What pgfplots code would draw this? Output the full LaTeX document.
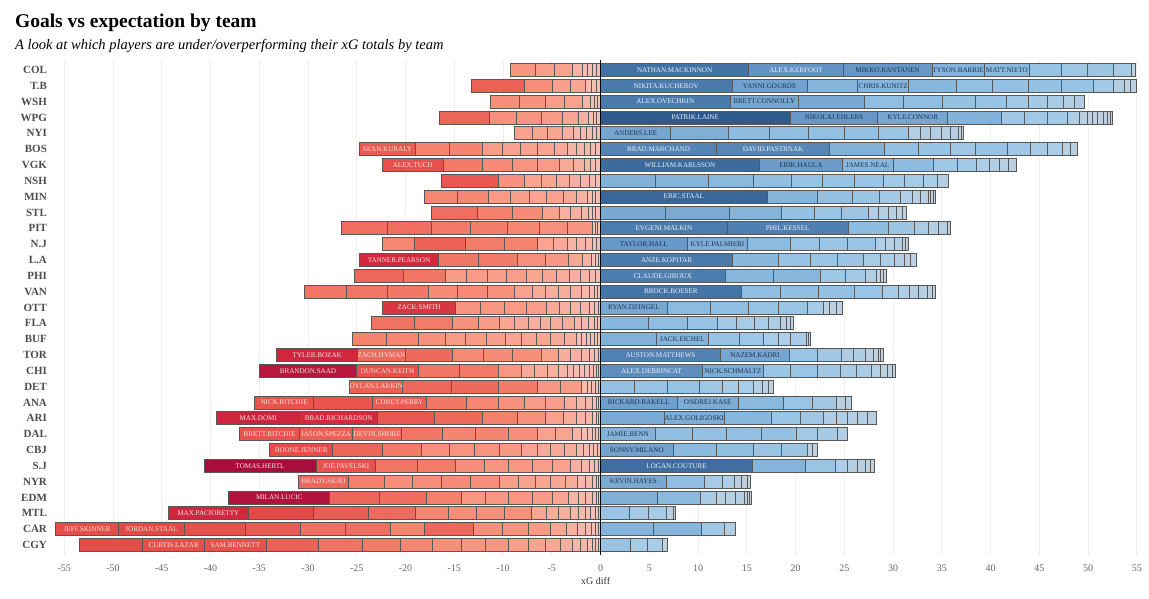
\documentclass[border=0pt]{standalone}
\usepackage{pgfplots}
\pgfplotsset{compat=1.18}
\usepackage{fontspec}
\setmainfont{Liberation Serif}

% blue side (overperforming)
\definecolor{pA}{HTML}{C9D2DB}
\definecolor{pB}{HTML}{A9CDE8}
\definecolor{pC}{HTML}{8FBEE2}
\definecolor{pD}{HTML}{6E9ECC}
\definecolor{pE}{HTML}{4C7CAE}
\definecolor{pF}{HTML}{2B578A}
% red side (underperforming)
\definecolor{nA}{HTML}{F2C9C0}
\definecolor{nB}{HTML}{F9A794}
\definecolor{nC}{HTML}{F5836E}
\definecolor{nD}{HTML}{E64C48}
\definecolor{nE}{HTML}{D42A3F}
\definecolor{nF}{HTML}{A80D3B}
\definecolor{segline}{HTML}{575757}
\definecolor{labdark}{HTML}{1E3350}
\definecolor{lablight}{HTML}{EEF2F7}
\definecolor{labred}{HTML}{FBE4E0}
\definecolor{teamgrey}{HTML}{4D4D4D}
\definecolor{tickgrey}{HTML}{666666}

\tikzset{
  seg/.style={draw=segline, line width=0.9pt, mark=none},
  segl/.style={font=\fontsize{7.1}{8}\selectfont, inner sep=0pt},
}

\def\none{-}
\gdef\alllabels{}

\newcommand\poscol[1]{%
  \pgfmathsetmacro\tv{min(abs(#1),20)}%
  \ifdim\tv pt<1.5pt
    \pgfmathtruncatemacro\pp{100*\tv/1.5}\edef\segc{pB!\pp!pA}%
  \else\ifdim\tv pt<4pt
    \pgfmathtruncatemacro\pp{100*(\tv-1.5)/2.5}\edef\segc{pC!\pp!pB}%
  \else\ifdim\tv pt<8pt
    \pgfmathtruncatemacro\pp{100*(\tv-4)/4}\edef\segc{pD!\pp!pC}%
  \else\ifdim\tv pt<13pt
    \pgfmathtruncatemacro\pp{100*(\tv-8)/5}\edef\segc{pE!\pp!pD}%
  \else
    \pgfmathtruncatemacro\pp{100*(\tv-13)/7}\edef\segc{pF!\pp!pE}%
  \fi\fi\fi\fi}

\newcommand\negcol[1]{%
  \pgfmathsetmacro\tv{min(abs(#1),11)}%
  \ifdim\tv pt<1.5pt
    \pgfmathtruncatemacro\pp{100*\tv/1.5}\edef\segc{nB!\pp!nA}%
  \else\ifdim\tv pt<3.5pt
    \pgfmathtruncatemacro\pp{100*(\tv-1.5)/2}\edef\segc{nC!\pp!nB}%
  \else\ifdim\tv pt<6.5pt
    \pgfmathtruncatemacro\pp{100*(\tv-3.5)/3}\edef\segc{nD!\pp!nC}%
  \else\ifdim\tv pt<8pt
    \pgfmathtruncatemacro\pp{100*(\tv-6.5)/1.5}\edef\segc{nE!\pp!nD}%
  \else
    \pgfmathtruncatemacro\pp{100*(\tv-8)/3}\edef\segc{nF!\pp!nE}%
  \fi\fi\fi\fi}

% \team{row}{negative players, from zero outward}{positive players, from zero outward}
% each player: xG diff/NAME (or /- for no label)
\newcommand\team[3]{%
  \pgfmathsetmacro\yl{#1-0.41}\pgfmathsetmacro\yh{#1+0.41}%
  \gdef\acc{0}%
  \foreach \val/\nm in {#2}{%
    \pgfmathsetmacro\sa{\acc}\pgfmathsetmacro\sb{\acc+(\val)}%
    \negcol{\val}%
    \edef\tmp{\noexpand\addplot[seg,fill=\segc] coordinates {(\sa,\yl) (\sb,\yl) (\sb,\yh) (\sa,\yh) (\sa,\yl)};}\tmp
    \xdef\acc{\sb}%
    \edef\nn{\nm}\ifx\nn\none\else
      \pgfmathsetmacro\sc{(\sa+\sb)/2}%
      \xdef\alllabels{\unexpanded\expandafter{\alllabels}\noexpand\node[segl,text=labred] at (axis cs:\sc,#1) {\nm};}%
    \fi}%
  \gdef\acc{0}%
  \foreach \val/\nm in {#3}{%
    \pgfmathsetmacro\sa{\acc}\pgfmathsetmacro\sb{\acc+(\val)}%
    \poscol{\val}%
    \edef\tmp{\noexpand\addplot[seg,fill=\segc] coordinates {(\sa,\yl) (\sb,\yl) (\sb,\yh) (\sa,\yh) (\sa,\yl)};}\tmp
    \xdef\acc{\sb}%
    \edef\nn{\nm}\ifx\nn\none\else
      \pgfmathsetmacro\sc{(\sa+\sb)/2}%
      \ifdim\val pt<9.5pt \def\lc{labdark}\else\def\lc{lablight}\fi
      \xdef\alllabels{\unexpanded\expandafter{\alllabels}\noexpand\node[segl,text=\lc] at (axis cs:\sc,#1) {\nm};}%
    \fi}%
}

\begin{document}
\begin{tikzpicture}
\fill[white] (-49.6pt,-44.5pt) rectangle (1099.4pt,554.5pt);
\path[use as bounding box] (-49.6pt,-44.5pt) rectangle (1099.4pt,554.5pt);
\begin{axis}[
  scale only axis, width=1092pt, height=494pt,
  xmin=-56.5, xmax=55.5, ymin=0.4, ymax=31.6, y dir=reverse,
  xtick={-55,-50,...,55},
  ytick={1,...,31},
  yticklabels={COL,T.B,WSH,WPG,NYI,BOS,VGK,NSH,MIN,STL,PIT,N.J,L.A,PHI,VAN,OTT,FLA,BUF,TOR,CHI,DET,ANA,ARI,DAL,CBJ,S.J,NYR,EDM,MTL,CAR,CGY},
  xmajorgrids, major grid style={draw=gray!13, line width=0.7pt},
  axis line style={draw=none}, major tick length=0pt, tick style={draw=none},
  /pgf/number format/assume math mode=true,
  xticklabel style={font=\fontsize{10}{12}\selectfont, text=tickgrey, yshift=-7pt},
  yticklabel style={font={\fontsize{11}{13}\selectfont\bfseries}, text=teamgrey, inner sep=0pt, xshift=-2.5pt},
  xlabel={xG diff},
  xlabel style={at={(axis description cs:0.5,0)}, anchor=center, yshift=-27pt, font=\fontsize{10}{12}\selectfont, text=black!80},
  clip=false,
]
\team{1}{-0.4/-,-0.4/-,-0.5/-,-0.6/-,-1.0/-,-1.8/-,-2.0/-,-2.5/-}
  {15.2/NATHAN.MACKINNON,9.7/ALEX.KERFOOT,9.1/MIKKO.RANTANEN,5.35/TYSON.BARRIE,4.65/MATT.NIETO,3.3/-,2.6/-,2.7/-,1.9/-,0.4/-}
\team{2}{-0.45/-,-0.5/-,-0.6/-,-1.5/-,-1.9/-,-2.9/-,-5.4/-}
  {13.5/NIKITA.KUCHEROV,7.7/YANNI.GOURDE,5.2/-,5.2/CHRIS.KUNITZ,4.9/-,3.7/-,3.65/-,3.4/-,3.35/-,2.05/-,1.1/-,0.63/-,0.6/-}
\team{3}{-0.3/-,-0.3/-,-0.4/-,-0.8/-,-1.85/-,-2.0/-,-2.7/-,-2.95/-}
  {13.3/ALEX.OVECHKIN,7.0/BRETT.CONNOLLY,6.75/-,3.97/-,4.0/-,3.45/-,3.15/-,2.3/-,1.93/-,1.63/-,1.1/-,1.09/-}
\team{4}{-0.4/-,-0.3/-,-0.5/-,-1.1/-,-1.6/-,-2.2/-,-2.55/-,-2.75/-,-5.1/-}
  {19.45/PATRIK.LAINE,9.0/NIKOLAJ.EHLERS,7.15/KYLE.CONNOR,5.5/-,2.4/-,2.3/-,2.05/-,1.22/-,0.82/-,0.6/-,0.5/-,0.55/-,0.5/-,0.25/-,0.2/-}
\team{5}{-0.45/-,-0.4/-,-0.55/-,-0.7/-,-0.7/-,-1.1/-,-1.5/-,-1.55/-,-1.85/-}
  {7.2/ANDERS.LEE,5.95/-,4.15/-,4.0/-,3.7/-,3.55/-,3.05/-,1.2/-,1.05/-,1.08/-,0.96/-,0.82/-,0.3/-,0.26/-}
\team{6}{-0.47/-,-0.51/-,-0.7/-,-0.78/-,-0.98/-,-1.33/-,-1.68/-,-1.75/-,-1.85/-,-2.05/-,-3.4/-,-3.5/-,-5.7/SEAN.KURALY}
  {11.9/BRAD.MARCHAND,11.6/DAVID.PASTRNAK,5.65/-,3.5/-,3.25/-,2.6/-,3.2/-,2.4/-,1.75/-,1.5/-,0.85/-,0.7/-}
\team{7}{-0.47/-,-0.51/-,-0.7/-,-1.12/-,-1.4/-,-2.25/-,-2.55/-,-3.1/-,-4.0/-,-6.3/ALEX.TUCH}
  {16.3/WILLIAM.KARLSSON,8.5/ERIK.HAULA,5.2/JAMES.NEAL,4.15/-,2.5/-,1.93/-,1.3/-,1.08/-,0.85/-,0.85/-}
\team{8}{-0.5/-,-0.67/-,-0.9/-,-1.13/-,-1.3/-,-1.6/-,-1.7/-,-2.7/-,-5.8/-}
  {5.65/-,5.4/-,4.65/-,3.85/-,3.25/-,3.25/-,2.95/-,2.2/-,1.9/-,1.45/-,1.1/-}
\team{9}{-0.47/-,-0.31/-,-0.59/-,-1.05/-,-1.38/-,-1.75/-,-1.72/-,-1.95/-,-2.25/-,-3.25/-,-3.3/-}
  {17.1/ERIC.STAAL,5.1/-,3.65/-,2.8/-,2.1/-,1.2/-,0.82/-,0.82/-,0.3/-,0.26/-,0.19/-}
\team{10}{-0.47/-,-0.35/-,-0.43/-,-0.7/-,-1.1/-,-1.15/-,-1.8/-,-3.0/-,-3.6/-,-4.7/-}
  {6.65/-,6.55/-,5.35/-,3.4/-,2.8/-,2.75/-,1.05/-,1.0/-,0.78/-,0.63/-,0.37/-}
\team{11}{-0.3/-,-0.25/-,-0.31/-,-2.54/-,-2.85/-,-3.25/-,-3.8/-,-4.0/-,-4.6/-,-4.7/-}
  {13.0/EVGENI.MALKIN,12.4/PHIL.KESSEL,4.1/-,2.65/-,1.5/-,1.0/-,0.93/-,0.3/-}
\team{12}{-0.39/-,-0.39/-,-0.74/-,-0.9/-,-0.98/-,-1.4/-,-1.65/-,-3.45/-,-3.9/-,-5.3/-,-3.3/-}
  {8.9/TAYLOR.HALL,6.2/KYLE.PALMIERI,4.4/-,3.0/-,2.85/-,2.8/-,1.1/-,0.85/-,0.82/-,0.37/-,0.26/-}
\team{13}{-0.25/-,-0.3/-,-0.35/-,-0.98/-,-1.44/-,-2.35/-,-2.85/-,-4.0/-,-4.1/-,-8.1/TANNER.PEARSON}
  {13.55/ANZE.KOPITAR,4.75/-,3.2/-,2.8/-,2.65/-,1.8/-,1.35/-,1.1/-,0.56/-,0.67/-}
\team{14}{-0.55/-,-0.62/-,-0.9/-,-1.13/-,-1.3/-,-1.5/-,-1.6/-,-2.05/-,-1.95/-,-2.1/-,-2.2/-,-4.3/-,-5.0/-}
  {12.8/CLAUDE.GIROUX,4.95/-,4.85/-,2.5/-,2.05/-,1.15/-,0.45/-,0.3/-,0.26/-}
\team{15}{-0.3/-,-0.36/-,-0.51/-,-0.78/-,-1.15/-,-1.2/-,-1.3/-,-1.35/-,-1.85/-,-2.75/-,-3.1/-,-3.0/-,-4.15/-,-4.25/-,-4.3/-}
  {14.45/BROCK.BOESER,4.0/-,3.9/-,3.65/-,2.95/-,1.6/-,1.1/-,1.0/-,0.93/-,0.48/-,0.3/-}
\team{16}{-0.2/-,-0.39/-,-0.58/-,-0.9/-,-0.98/-,-1.15/-,-1.35/-,-2.05/-,-2.25/-,-2.45/-,-2.55/-,-7.5/ZACK.SMITH}
  {6.85/RYAN.DZINGEL,4.4/-,3.95/-,3.1/-,2.9/-,1.7/-,0.63/-,0.63/-,0.67/-}
\team{17}{-0.27/-,-0.39/-,-0.59/-,-0.7/-,-0.75/-,-1.2/-,-1.2/-,-1.1/-,-1.2/-,-1.4/-,-1.55/-,-2.15/-,-2.65/-,-3.95/-,-4.4/-}
  {4.95/-,3.95/-,3.1/-,1.95/-,1.8/-,1.45/-,1.22/-,0.63/-,0.45/-,0.33/-}
\team{18}{-0.27/-,-0.32/-,-0.39/-,-0.47/-,-0.5/-,-0.55/-,-1.2/-,-1.4/-,-1.5/-,-1.5/-,-1.65/-,-1.9/-,-2.2/-,-2.1/-,-2.7/-,-3.3/-,-3.5/-}
  {5.7/-,5.4/JACK.EICHEL,3.2/-,2.4/-,1.55/-,1.2/-,1.65/-,0.26/-,0.22/-}
\team{19}{-0.2/-,-0.39/-,-0.58/-,-0.83/-,-1.1/-,-1.2/-,-1.8/-,-2.9/-,-3.0/-,-3.15/-,-4.85/-,-4.9/ZACH.HYMAN,-8.3/TYLER.BOZAK}
  {12.3/AUSTON.MATTHEWS,7.1/NAZEM.KADRI,2.9/-,2.4/-,1.25/-,1.25/-,0.75/-,0.55/-,0.26/-,0.22/-}
\team{20}{-0.16/-,-0.23/-,-0.31/-,-0.47/-,-0.47/-,-0.51/-,-0.58/-,-0.67/-,-0.9/-,-1.15/-,-1.3/-,-1.35/-,-2.4/-,-4.0/-,-4.2/-,-6.3/DUNCAN.KEITH,-10.0/BRANDON.SAAD}
  {10.45/ALEX.DEBRINCAT,6.25/NICK.SCHMALTZ,2.8/-,2.8/-,2.35/-,1.6/-,1.5/-,0.93/-,0.74/-,0.52/-,0.3/-}
\team{21}{-0.2/-,-0.3/-,-0.4/-,-0.47/-,-0.58/-,-2.15/-,-2.35/-,-4.0/-,-4.85/-,-5.0/-,-5.4/DYLAN.LARKIN}
  {3.5/-,3.35/-,3.25/-,2.4/-,1.65/-,1.5/-,1.0/-,0.56/-,0.56/-}
\team{22}{-0.16/-,-0.23/-,-0.47/-,-0.7/-,-0.86/-,-1.28/-,-1.95/-,-2.15/-,-2.65/-,-3.25/-,-4.1/-,-5.6/COREY.PERRY,-6.0/-,-6.1/NICK.RITCHIE}
  {7.85/RICKARD.RAKELL,6.3/ONDREJ.KASE,4.65/-,2.95/-,2.4/-,0.93/-,0.7/-}
\team{23}{-0.16/-,-0.23/-,-0.47/-,-0.7/-,-0.9/-,-1.34/-,-1.85/-,-2.85/-,-3.6/-,-4.9/-,-5.85/-,-8.0/BRAD.RICHARDSON,-8.5/MAX.DOMI}
  {6.55/-,6.15/ALEX.GOLIGOSKI,4.8/-,3.0/-,2.35/-,1.3/-,1.2/-,1.05/-,1.0/-,0.85/-}
\team{24}{-0.2/-,-0.27/-,-0.39/-,-0.51/-,-0.58/-,-0.95/-,-1.7/-,-1.85/-,-2.95/-,-3.4/-,-3.4/-,-4.2/-,-5.0/DEVIN.SHORE,-5.5/JASON.SPEZZA,-6.1/BRETT.RITCHIE}
  {5.6/JAMIE.BENN,3.8/-,3.55/-,3.6/-,3.5/-,2.2/-,2.05/-,1.05/-}
\team{25}{-0.3/-,-0.4/-,-0.47/-,-0.59/-,-0.74/-,-1.2/-,-1.4/-,-1.35/-,-1.65/-,-2.3/-,-2.55/-,-2.55/-,-2.85/-,-4.0/-,-5.1/-,-6.5/BOONE.JENNER}
  {7.45/SONNY.MILANO,4.45/-,3.8/-,2.85/-,2.7/-,0.5/-,0.45/-}
\team{26}{-0.2/-,-0.4/-,-0.5/-,-0.86/-,-1.15/-,-1.8/-,-2.05/-,-2.45/-,-2.5/-,-2.95/-,-3.9/-,-4.3/-,-6.1/JOE.PAVELSKI,-11.5/TOMAS.HERTL}
  {15.6/LOGAN.COUTURE,5.4/-,3.05/-,1.3/-,1.0/-,0.82/-,0.48/-,0.45/-}
\team{27}{-0.16/-,-0.23/-,-0.47/-,-0.7/-,-0.78/-,-1.26/-,-1.5/-,-1.55/-,-1.75/-,-1.95/-,-2.95/-,-3.0/-,-2.95/-,-2.9/-,-3.7/-,-5.1/BRADY.SKJEI}
  {6.75/KEVIN.HAYES,3.95/-,1.85/-,1.22/-,0.7/-,0.56/-,0.37/-}
\team{28}{-0.16/-,-0.23/-,-0.47/-,-0.7/-,-0.74/-,-1.0/-,-1.6/-,-2.1/-,-2.4/-,-2.4/-,-2.45/-,-3.65/-,-4.75/-,-5.1/-,-10.4/MILAN.LUCIC}
  {5.8/-,4.5/-,1.6/-,0.93/-,0.96/-,1.0/-,0.26/-,0.19/-,0.19/-}
\team{29}{-0.23/-,-0.32/-,-0.43/-,-0.58/-,-0.66/-,-0.9/-,-1.2/-,-1.25/-,-1.55/-,-2.75/-,-2.85/-,-2.9/-,-3.35/-,-4.85/-,-5.6/-,-6.7/-,-8.2/MAX.PACIORETTY}
  {2.95/-,1.95/-,1.85/-,0.74/-,0.22/-}
\team{30}{-0.16/-,-0.31/-,-0.43/-,-0.66/-,-0.78/-,-1.16/-,-1.6/-,-2.3/-,-2.7/-,-2.9/-,-5.05/-,-3.45/-,-4.7/-,-4.6/-,-5.65/-,-6.25/-,-6.7/JORDAN.STAAL,-6.5/JEFF.SKINNER}
  {5.4/-,5.0/-,2.35/-,1.1/-}
\team{31}{-0.2/-,-0.27/-,-0.39/-,-0.51/-,-0.7/-,-0.83/-,-1.2/-,-1.55/-,-1.75/-,-2.0/-,-2.4/-,-2.5/-,-2.9/-,-3.35/-,-3.9/-,-4.45/-,-5.4/-,-6.3/SAM.BENNETT,-6.35/CURTIS.LAZAR,-6.5/-}
  {3.1/-,1.75/-,1.55/-,0.45/-}
\addplot[black, line width=1pt, mark=none] coordinates {(0,0.4) (0,31.6)};
\alllabels
\end{axis}
\node[anchor=base west, font={\fontsize{19.5}{22}\selectfont\bfseries}] at (-38pt,526.5pt) {Goals vs expectation by team};
\node[anchor=base west, font={\fontsize{14.5}{17}\selectfont\itshape}] at (-38pt,504.5pt) {A look at which players are under/overperforming their xG totals by team};
\end{tikzpicture}
\end{document}
